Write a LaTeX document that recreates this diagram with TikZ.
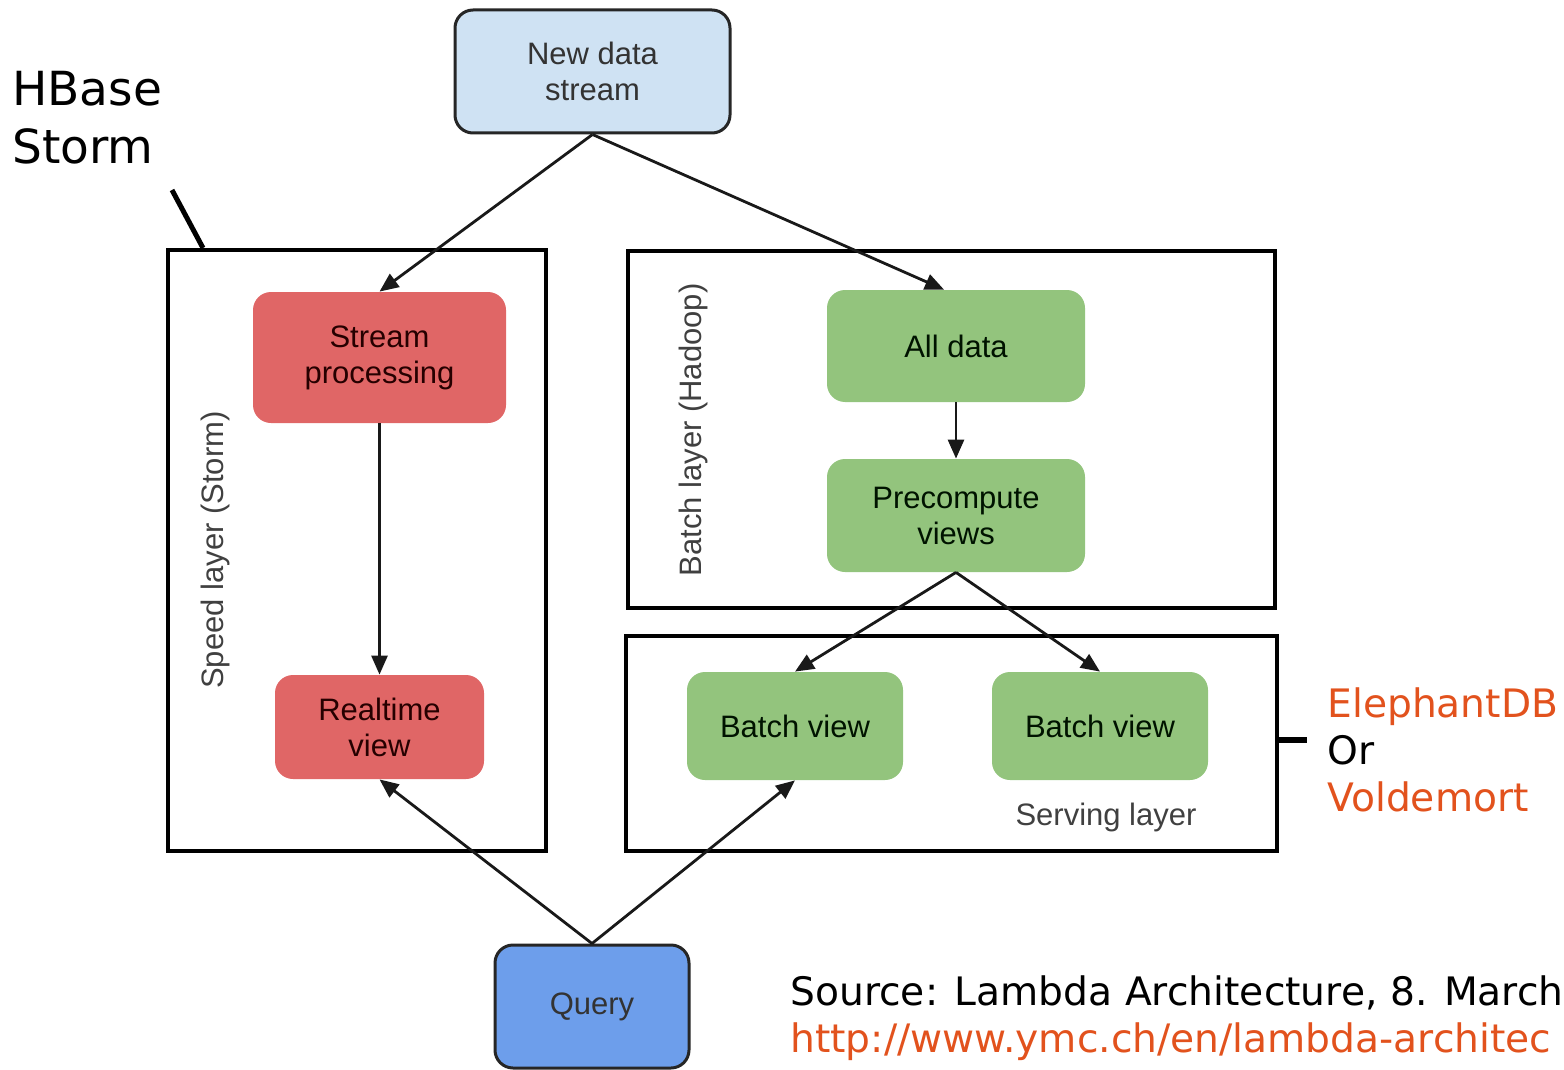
\documentclass[tikz,border=0pt]{standalone}
\usepackage{fontspec}
\setmainfont{Liberation Sans}
\newfontfamily\notefont{DejaVu Sans}
\usetikzlibrary{arrows.meta}
\definecolor{newblue}{HTML}{CFE2F3}
\definecolor{speedred}{HTML}{E06666}
\definecolor{batchgreen}{HTML}{93C47D}
\definecolor{queryblue}{HTML}{6D9EEB}
\definecolor{noteorange}{HTML}{E2521D}

\begin{document}
\begin{tikzpicture}[
		x=0.5pt, y=-0.5pt,
		every node/.style={align=center,inner sep=0pt,font=\fontsize{15.5}{18}\selectfont},
		layer/.style={draw=black,line width=2pt},
		inbox/.style={rounded corners=9pt,fill=newblue,draw=black!85,line width=1.5pt,text=black!80},
		speedbox/.style={rounded corners=9pt,fill=speedred,text=black!75!red!60!black},
		batchbox/.style={rounded corners=9pt,fill=batchgreen,text=black!85!green!50!black},
		querybox/.style={rounded corners=9pt,fill=queryblue,draw=black!85,line width=1.5pt,text=black!80},
		layerlabel/.style={text=black!75},
		flow/.style={-{Triangle[length=9.5pt,width=8pt]},line width=1.4pt,draw=black!90},
		pointer/.style={line width=2.5pt,draw=black}
		]
		\useasboundingbox (0,0) rectangle (1564,1070);
		\node[layer,minimum width=189pt,minimum height=300.5pt] (speed) at (357,550.5) {};
		\node[layer,minimum width=323.5pt,minimum height=178.5pt] (batch) at (951.5,429.5) {};
		\node[layer,minimum width=325.5pt,minimum height=107.5pt] (serving) at (951.5,743.5) {};
		\node[layerlabel,rotate=90] (speedlbl) at (215,550) {Speed layer (Storm)};
		\node[layerlabel,rotate=90] (batchlbl) at (693,430) {Batch layer (Hadoop)};
		\node[layerlabel] (servlbl) at (1106,817) {Serving layer};
		\node[inbox,minimum width=137.5pt,minimum height=61.5pt] (new) at (592.5,71.5) {New data\\stream};
		\node[speedbox,minimum width=126.5pt,minimum height=65.5pt] (stream) at (379.5,357.5) {Stream\\processing};
		\node[speedbox,minimum width=104.5pt,minimum height=52pt] (realtime) at (379.5,727) {Realtime\\view};
		\node[batchbox,minimum width=129pt,minimum height=56pt] (alldata) at (956,346) {All data};
		\node[batchbox,minimum width=129pt,minimum height=56.5pt] (precomp) at (956,515.5) {Precompute\\views};
		\node[batchbox,minimum width=108pt,minimum height=54pt] (bview1) at (795,726) {Batch view};
		\node[batchbox,minimum width=108pt,minimum height=54pt] (bview2) at (1100,726) {Batch view};
		\node[querybox,minimum width=97pt,minimum height=61.5pt] (query) at (592,1006.5) {Query};
		\draw[flow] (new.south) -- (stream.north);
		\draw[flow] (new.south) -- ([xshift=-6pt]alldata.north);
		\draw[flow] (stream.south) -- (realtime.north);
		\draw[flow] (alldata.south) -- (precomp.north);
		\draw[flow] (precomp.south) -- (bview1.north);
		\draw[flow] (precomp.south) -- (bview2.north);
		\draw[flow] (query.north) -- (realtime.south);
		\draw[flow] (query.north) -- (bview1.south);
		\node[anchor=base west,align=left,font=\notefont\fontsize{23.5}{28.5}\selectfont] (hbase) at (12,163) {HBase\\Storm};
		\coordinate (hbtip) at (172,190);
		\draw[pointer] (hbtip) -- ([xshift=18.5pt]speed.north west);
		\node[anchor=base west,align=left,font=\notefont\fontsize{19.6}{23.5}\selectfont] (store) at (1327,811) {\textcolor{noteorange}{ElephantDB}\\Or\\\textcolor{noteorange}{Voldemort}};
		\coordinate (storetip) at (1307,740);
		\draw[pointer,line width=3pt] ([yshift=1.75pt]serving.east) -- (storetip);
		\node[anchor=base west,align=left,font=\notefont\fontsize{19.6}{23.5}\selectfont] (source) at (790,1052) {Source: Lambda Architecture, 8. March\\\textcolor{noteorange}{http://www.ymc.ch/en/lambda-architec}};
\end{tikzpicture}
\end{document}
